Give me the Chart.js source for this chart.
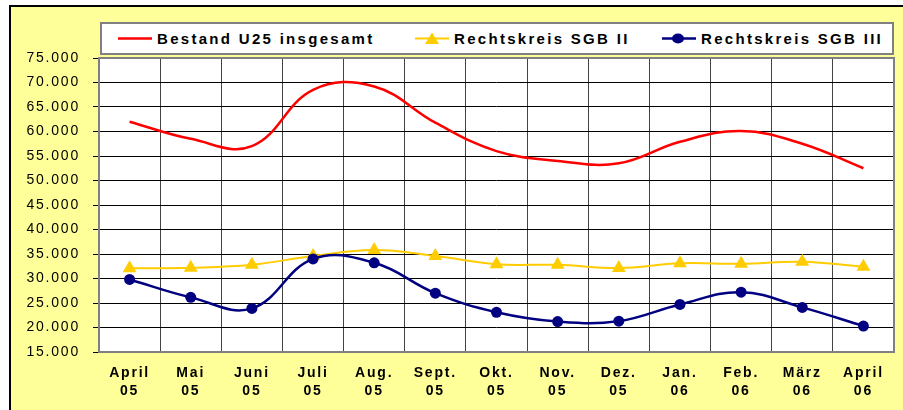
<!DOCTYPE html>
<html>
<head>
<meta charset="utf-8">
<script src="https://cdn.jsdelivr.net/npm/chart.js@4.4.1/dist/chart.umd.min.js"></script>
<style>
    html, body { margin: 0; padding: 0; background: #fff; }
    body { width: 903px; height: 410px; position: relative; overflow: hidden;
           font-family: "Liberation Sans", Arial, sans-serif; }
    #frame { position: absolute; left: 9px; top: 5px; right: 0; bottom: 0;
             background: #FFFF99; border-left: 2px solid #000; border-top: 2px solid #000; }
    #wrap { position: absolute; left: 0; top: 0; width: 903px; height: 410px; }
    #legend-box { position: absolute; left: 100px; top: 22px; width: 794px; height: 33px;
                  box-sizing: border-box; background: #fff; border: 2px solid #808080; }
    .lg-item { position: absolute; top: 31px; height: 15px; display: flex; align-items: center;
               font: bold 15px "Liberation Sans", Arial, sans-serif; letter-spacing: 2.3px;
               line-height: 15px; color: #000; white-space: nowrap; }
    .lg-item svg { margin-right: 5px; }
</style>
</head>
<body>
<div id="frame"></div>
<div id="legend-box"></div>
<div id="legend"></div>
<div id="wrap"><canvas id="chart-u25"></canvas></div>
<script>
// Arbeitslose unter 25 Jahren, April 2005 bis April 2006
const monthLabels = [
    ['April', '05'], ['Mai', '05'], ['Juni', '05'], ['Juli', '05'], ['Aug.', '05'],
    ['Sept.', '05'], ['Okt.', '05'], ['Nov.', '05'], ['Dez.', '05'], ['Jan.', '06'],
    ['Feb.', '06'], ['März', '06'], ['April', '06'],
];
const seriesNames = ['Bestand U25 insgesamt', 'Rechtskreis SGB II', 'Rechtskreis SGB III'];
const bestandU25 = [62000, 58500, 57000, 68500, 69200, 61800, 56000, 54000, 53500, 57900, 60100, 57500, 52500];
const sgbII      = [32100, 32200, 32800, 34600, 35800, 34600, 32900, 32800, 32150, 33100, 33000, 33400, 32400];
const sgbIII     = [29800, 26150, 23900, 34000, 33200, 27000, 23100, 21200, 21300, 24700, 27200, 24100, 20300];
const yTicks = { min: 15000, max: 75000, step: 5000 };

const colors = ['#FF0000', '#FFCC00', '#000080'];

// legend (html, the chart's own legend is switched off)
const markerSvg = [
    '<svg width="34" height="15"><line x1="0" y1="7.5" x2="34" y2="7.5" stroke="#FF0000" stroke-width="2.5"/></svg>',
    '<svg width="34" height="15"><line x1="0" y1="7.5" x2="34" y2="7.5" stroke="#FFCC00" stroke-width="2"/>'
        + '<polygon points="17,1.5 24,13 10,13" fill="#FFCC00"/></svg>',
    '<svg width="34" height="15"><line x1="0" y1="7.5" x2="34" y2="7.5" stroke="#000080" stroke-width="2.5"/>'
        + '<ellipse cx="16" cy="7.5" rx="6" ry="5" fill="#000080"/></svg>',
];
const legendX = [118, 415, 662];
const legend = document.getElementById('legend');
seriesNames.forEach((name, i) => {
    const el = document.createElement('div');
    el.className = 'lg-item';
    el.style.left = legendX[i] + 'px';
    el.innerHTML = markerSvg[i] + '<span>' + name + '</span>';
    legend.appendChild(el);
});

const plotFrame = {
    id: 'plotFrame',
    beforeDraw(c) {
        const { ctx, chartArea: a } = c;
        ctx.letterSpacing = '1.8px';
        ctx.save();
        ctx.fillStyle = '#fff';
        ctx.fillRect(a.left, a.top, a.right - a.left, a.bottom - a.top);
        ctx.restore();
    },
    afterDatasetsDraw(c) {
        const { ctx, chartArea: a } = c;
        ctx.save();
        ctx.strokeStyle = '#808080';
        ctx.lineWidth = 2;
        ctx.strokeRect(a.left, a.top, a.right - a.left, a.bottom - a.top);
        ctx.restore();
    },
};

const ctx = document.getElementById('chart-u25').getContext('2d');
new Chart(ctx, {
    type: 'line',
    data: {
        labels: monthLabels,
        datasets: [{
            label: seriesNames[0],
            data: bestandU25,
            borderColor: colors[0],
            borderWidth: 2.5,
            pointRadius: 0,
            tension: 0.4,
            order: 2,
        }, {
            label: seriesNames[1],
            data: sgbII,
            borderColor: colors[1],
            backgroundColor: colors[1],
            borderWidth: 2,
            pointStyle: 'triangle',
            pointRadius: 8,
            pointBorderWidth: 0,
            tension: 0.4,
            order: 1,
        }, {
            label: seriesNames[2],
            data: sgbIII,
            borderColor: colors[2],
            backgroundColor: colors[2],
            borderWidth: 2.5,
            pointStyle: 'circle',
            pointRadius: 5.5,
            pointBorderWidth: 0,
            tension: 0.4,
            order: 0,
        }],
    },
    options: {
        responsive: true,
        maintainAspectRatio: false,
        animation: false,
        layout: { padding: { left: 0, top: 58, right: 9, bottom: 0 } },
        plugins: { legend: { display: false }, tooltip: { enabled: false } },
        scales: {
            x: {
                offset: true,
                grid: { offset: true, color: '#444', lineWidth: 1, drawTicks: false },
                border: { display: false },
                ticks: {
                    autoSkip: false,
                    maxRotation: 0,
                    padding: 12,
                    color: '#000',
                    font: { family: '"Liberation Sans", Arial, sans-serif', size: 14, weight: 'bold', lineHeight: 1.3 },
                },
                afterFit(scale) { scale.height = 58; },
            },
            y: {
                min: yTicks.min,
                max: yTicks.max,
                grid: { color: '#000', lineWidth: 1, tickLength: 6 },
                border: { display: false },
                ticks: {
                    stepSize: yTicks.step,
                    padding: 13,
                    color: '#000',
                    font: { family: '"Liberation Sans", Arial, sans-serif', size: 14 },
                    callback: v => v.toLocaleString('de-DE'),
                },
                afterFit(scale) { scale.width = 99; },
            },
        },
    },
    plugins: [plotFrame],
});
</script>
</body>
</html>
